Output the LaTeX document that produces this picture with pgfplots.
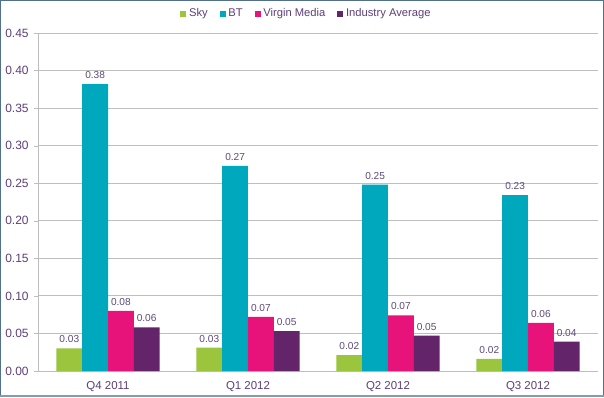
\documentclass[border=0pt]{standalone}
\usepackage{pgfplots}
\pgfplotsset{compat=1.18}
\usepackage{fontspec}
\setmainfont{Liberation Sans}
\definecolor{skyc}{HTML}{9BC53D}
\definecolor{btc}{HTML}{00A8BE}
\definecolor{vmc}{HTML}{E8137A}
\definecolor{iac}{HTML}{63246A}
\definecolor{txtc}{HTML}{5E3F7A}
\definecolor{lblc}{HTML}{5E4A7A}
\definecolor{framec}{HTML}{50708E}
\definecolor{gridc}{HTML}{BEBEBE}
\begin{document}
\begin{tikzpicture}
\useasboundingbox (0,0) rectangle (453pt,297.75pt);
\fill[white] (0,0) rectangle (453pt,297.75pt);
\begin{axis}[
  at={(28.5pt,19.5pt)}, anchor=south west,
  scale only axis, width=420pt, height=253.5pt,
  ybar=0pt, bar width=0.184,
  xmin=-0.5, xmax=3.5, ymin=0, ymax=0.45,
  xtick={0,1,2,3},
  xticklabels={Q4 2011,Q1 2012,Q2 2012,Q3 2012},
  extra x ticks={0.5,1.5,2.5,3.5},
  extra x tick labels={},
  extra x tick style={major tick length=3pt, tick style={gridc}, grid=none},
  ytick={0,0.05,...,0.451},
  /pgf/number format/assume math mode=true,
  axis lines*=left,
  axis line style={gridc},
  tick align=outside,
  major tick length=3pt,
  xtick style={draw=none},
  ytick style={gridc},
  ymajorgrids, grid style={gridc, line width=0.6pt},
  ticklabel style={font=\fontsize{9}{10}\selectfont, text=txtc},
  xticklabel style={font=\fontsize{8.6}{10}\selectfont, text=txtc, yshift=-1.5pt},
  yticklabel style={xshift=-0.5pt, /pgf/number format/.cd,fixed,zerofill,precision=2},
  nodes near coords,
  nodes near coords style={font=\fontsize{7.6}{8}\selectfont, text=lblc, yshift=0.5pt,
    /pgf/number format/.cd, fixed, zerofill, precision=2, assume math mode=true},
  legend columns=4,
  legend style={at={(0.48,1)}, anchor=center, yshift=14.5pt, draw=none, fill=none,
    font=\fontsize{8.4}{9}\selectfont, text=txtc,
    /tikz/every even column/.append style={column sep=7pt}},
  legend image code/.code={\fill[#1] (0pt,-2.2pt) rectangle (4.5pt,2.3pt);},
]
\addplot[fill=skyc, draw=none] coordinates {(0,0.030) (1,0.031) (2,0.021) (3,0.016)};
\addplot[fill=btc, draw=none] coordinates {(0,0.382) (1,0.273) (2,0.248) (3,0.234)};
\addplot[fill=vmc, draw=none] coordinates {(0,0.080) (1,0.072) (2,0.074) (3,0.064)};
\addplot[fill=iac, draw=none] coordinates {(0,0.058) (1,0.053) (2,0.047) (3,0.039)};
\legend{Sky,BT,Virgin Media,Industry Average}
\end{axis}
\draw[framec, line width=1pt] (0.5pt,0.5pt) rectangle (452.5pt,297.25pt);
\draw[framec!70, line width=1.6pt] (0,1pt) -- (453pt,1pt);
\end{tikzpicture}
\end{document}
